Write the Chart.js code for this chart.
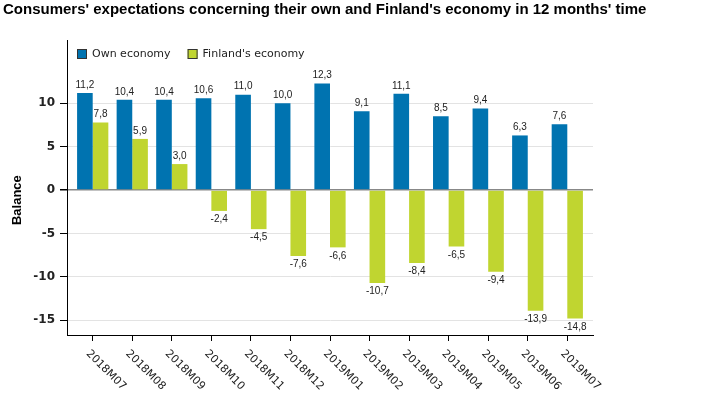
<!DOCTYPE html>
<html>
<head>
<meta charset="utf-8">
<script src="https://cdn.jsdelivr.net/npm/chart.js@4/dist/chart.umd.min.js"></script>
<style>
  html, body { margin: 0; padding: 0; background: #fff; }
  #wrap { width: 707px; height: 398px; }
</style>
</head>
<body>
<div id="wrap"><canvas id="myChart"></canvas></div>
<script>
var categories = ['2018M07', '2018M08', '2018M09', '2018M10', '2018M11', '2018M12', '2019M01',
                  '2019M02', '2019M03', '2019M04', '2019M05', '2019M06', '2019M07'];
var ownEconomy = [11.2, 10.4, 10.4, 10.6, 11.0, 10.0, 12.3, 9.1, 11.1, 8.5, 9.4, 6.3, 7.6];
var finlandEconomy = [7.8, 5.9, 3.0, -2.4, -4.5, -7.6, -6.6, -10.7, -8.4, -6.5, -9.4, -13.9, -14.8];
var yTicks = [-15, -10, -5, 0, 5, 10];

var FONT = "'Liberation Sans', Arial, sans-serif";
var WIDE = "'DejaVu Sans', Verdana, sans-serif";
Chart.defaults.font.family = FONT;

function points(values) {
    return values.map(function (v, i) { return { x: i, y: v }; });
}

// value labels above / below the bars, comma decimals
var valueLabels = {
    id: 'valueLabels',
    afterDatasetsDraw: function (chart) {
        var ctx = chart.ctx;
        ctx.save();
        ctx.font = '10px ' + FONT;
        ctx.fillStyle = '#222';
        ctx.textAlign = 'center';
        ctx.textBaseline = 'middle';
        chart.data.datasets.forEach(function (ds, di) {
            chart.getDatasetMeta(di).data.forEach(function (bar, i) {
                var v = ds.data[i].y;
                var y = v >= 0 ? bar.y - 8 : bar.y + 8.5;
                ctx.fillText(v.toFixed(1).replace('.', ','), bar.x, y);
            });
        });
        ctx.restore();
    }
};

// slanted month labels (text runs down to the right from the tick)
var monthLabels = {
    id: 'monthLabels',
    afterDraw: function (chart) {
        var ctx = chart.ctx;
        var xs = chart.scales.x;
        ctx.save();
        ctx.font = '11px ' + WIDE;
        ctx.fillStyle = '#222';
        ctx.textAlign = 'left';
        ctx.textBaseline = 'middle';
        categories.forEach(function (c, i) {
            var x = xs.getPixelForValue(i);
            ctx.save();
            ctx.translate(x - 5, xs.top + 17);
            ctx.rotate(Math.PI / 4);
            ctx.fillText(c, 0, 0);
            ctx.restore();
        });
        ctx.restore();
    }
};

// legend inside the plot area, top left
var innerLegend = {
    id: 'innerLegend',
    afterDraw: function (chart) {
        var ctx = chart.ctx;
        var x = chart.chartArea.left + 10;
        var y = chart.chartArea.top + 9;
        ctx.save();
        ctx.font = '11px ' + WIDE;
        ctx.textBaseline = 'middle';
        ctx.textAlign = 'left';
        chart.data.datasets.forEach(function (ds) {
            ctx.fillStyle = ds.backgroundColor;
            ctx.fillRect(x, y, 10, 10);
            ctx.strokeStyle = '#333';
            ctx.lineWidth = 1;
            ctx.strokeRect(x + 0.5, y + 0.5, 9, 9);
            ctx.fillStyle = '#222';
            ctx.fillText(ds.label, x + 15, y + 5);
            x += 15 + ctx.measureText(ds.label).width + 17;
        });
        ctx.restore();
    }
};

var ctx = document.getElementById('myChart').getContext('2d');
var chart = new Chart(ctx, {
    type: 'bar',
    data: {
        datasets: [{
            label: 'Own economy',
            data: points(ownEconomy),
            backgroundColor: '#0073b0',
            categoryPercentage: 0.79,
            barPercentage: 1
        }, {
            label: "Finland's economy",
            data: points(finlandEconomy),
            backgroundColor: '#c0d530',
            categoryPercentage: 0.79,
            barPercentage: 1
        }]
    },
    plugins: [valueLabels, monthLabels, innerLegend],
    options: {
        responsive: true,
        maintainAspectRatio: false,
        animation: false,
        layout: { padding: { left: 3, right: 0, top: 0, bottom: 57 } },
        plugins: {
            legend: { display: false },
            tooltip: { enabled: false },
            title: {
                display: true,
                text: "Consumers' expectations concerning their own and Finland's economy in 12 months' time",
                align: 'start',
                color: '#000',
                font: { size: 15, weight: 'bold' },
                padding: { top: 1, bottom: 21 }
            }
        },
        scales: {
            x: {
                type: 'linear',
                min: -0.65,
                max: 12.65,
                offset: false,
                afterBuildTicks: function (axis) {
                    axis.ticks = categories.map(function (c, i) { return { value: i }; });
                },
                ticks: { display: false },
                grid: { offset: false, drawOnChartArea: false, drawTicks: true, tickLength: 6, tickColor: '#000' },
                border: { color: '#000', width: 1 }
            },
            y: {
                min: -16.7,
                max: 17.3,
                afterBuildTicks: function (axis) {
                    axis.ticks = yTicks.map(function (v) { return { value: v }; });
                },
                afterFit: function (axis) { axis.width = 64; },
                ticks: {
                    padding: 5,
                    color: '#222',
                    font: { family: WIDE, size: 12, weight: 'bold' }
                },
                grid: {
                    color: function (c) { return c.tick && c.tick.value === 0 ? '#888' : '#e3e3e3'; },
                    lineWidth: function (c) { return c.tick && c.tick.value === 0 ? 1.5 : 1; },
                    tickColor: '#000',
                    tickLength: 7
                },
                border: { color: '#000', width: 1 },
                title: {
                    display: true,
                    text: 'Balance       ',
                    color: '#000',
                    font: { size: 13, weight: 'bold' },
                    padding: { top: 7, bottom: 0 }
                }
            },
            // empty right-hand axis, only keeps the white margin on the right
            spacer: {
                type: 'linear',
                position: 'right',
                min: -16.7,
                max: 17.3,
                ticks: { display: false },
                grid: { display: false, drawOnChartArea: false },
                border: { display: false },
                afterFit: function (axis) { axis.width = 114; }
            }
        }
    }
});
</script>
</body>
</html>
